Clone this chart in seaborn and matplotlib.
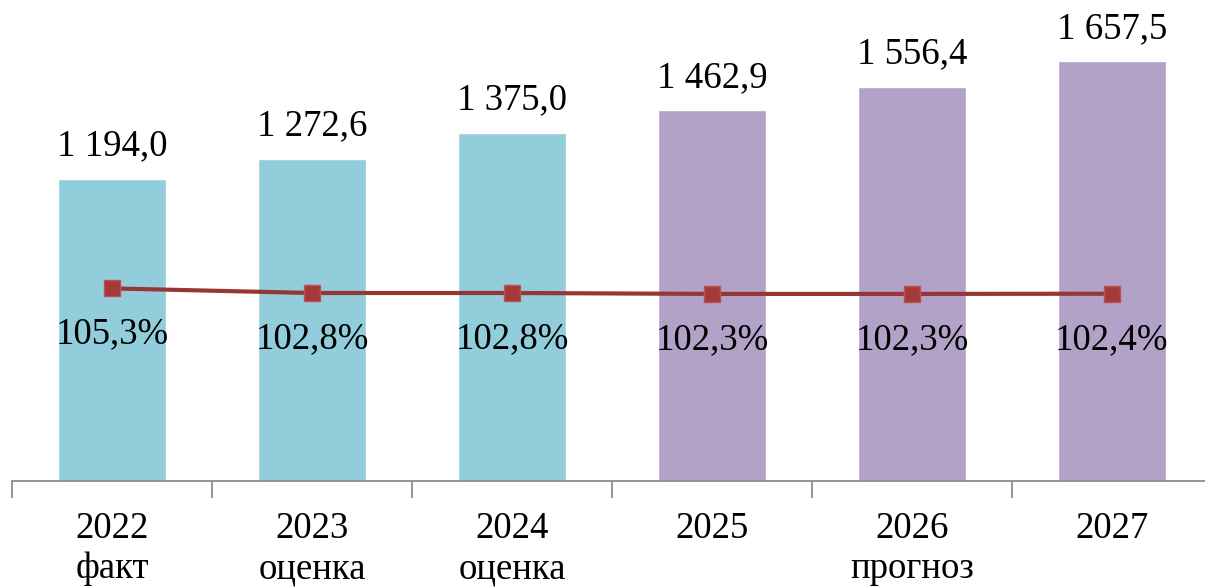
import numpy as np
import pandas as pd
import seaborn as sns
import matplotlib.pyplot as plt

sns.set_style("white")
plt.rcParams['font.family'] = ['Liberation Serif', 'DejaVu Serif']
plt.rcParams['text.color'] = 'black'
plt.rcParams['xtick.color'] = 'black'

years = ['2022', '2023', '2024', '2025', '2026', '2027']
sublabels = ['факт', 'оценка', 'оценка', '', 'прогноз', '']
values = [1194.0, 1272.6, 1375.0, 1462.9, 1556.4, 1657.5]
growth = [105.3, 102.8, 102.8, 102.3, 102.3, 102.4]
kind = ['fact', 'fact', 'fact', 'plan', 'plan', 'plan']

def fmt_val(v):
    s = f"{v:,.1f}".replace(',', ' ').replace('.', ',')
    return s

df = pd.DataFrame({'year': years, 'value': values, 'growth': growth, 'kind': kind})

fig = plt.figure(figsize=(12.05, 5.88), dpi=100)
ax = fig.add_axes([12 / 1205, 1 - 481 / 588, 1200 / 1205, 481 / 588])

sns.barplot(data=df, x='year', y='value', hue='kind',
            palette={'fact': '#92CDDC', 'plan': '#B3A2C7'},
            width=0.54, dodge=False, legend=False, saturation=1, ax=ax)
ax.set_ylim(0, 1899)
ax.set_xlim(-0.5, 5.5)

for i, v in enumerate(values):
    ax.text(i, v + 60, fmt_val(v), ha='center', va='bottom', fontsize=26.5,
            color='black')

ax2 = ax.twinx()
ax2.plot(np.arange(len(growth)), growth, color='#953735', lw=3,
         marker='s', markersize=11, markerfacecolor='#A33A3A',
         markeredgecolor='#C0504D', markeredgewidth=1, zorder=5)
ax2.set_ylim(0, 263)
for i, g in enumerate(growth):
    ax2.text(i, g - 25, f"{g:.1f}%".replace('.', ','), ha='center', va='center',
             fontsize=26.5, color='black')
ax2.set_yticks([])
ax2.set_xlim(-0.5, 5.5)

ax.set_yticks([])
ax.set_xlabel('')
ax.set_ylabel('')
ax.set_xticks(np.arange(-0.5, 6, 1))
ax.set_xticklabels([])
ax.tick_params(axis='x', which='major', bottom=True, direction='out',
               length=12, width=1.3, color='#8C8C8C')
ax.set_xticks(np.arange(len(years)), minor=True)
labels = [f"{y}\n{s}" if s else y for y, s in zip(years, sublabels)]
ax.set_xticklabels(labels, minor=True, fontsize=26.5, linespacing=1.22,
                   va='top', color='black')
ax.tick_params(axis='x', which='minor', bottom=True, length=0, pad=22)

for side in ['top', 'right', 'left']:
    ax.spines[side].set_visible(False)
    ax2.spines[side].set_visible(False)
ax2.spines['bottom'].set_visible(False)
ax.spines['bottom'].set_color('#8C8C8C')
ax.spines['bottom'].set_linewidth(1.3)

fig.savefig('out.png', dpi=100)
